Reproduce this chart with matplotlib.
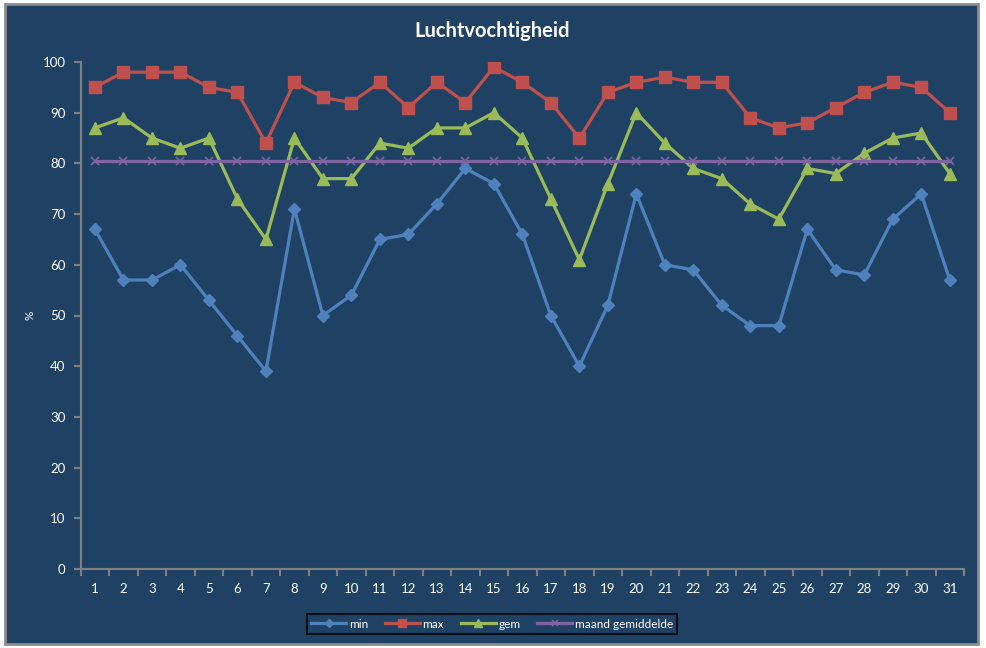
import matplotlib
matplotlib.use("Agg")
import matplotlib.pyplot as plt
from matplotlib.patches import Rectangle
from matplotlib.ticker import FixedLocator, NullFormatter

plt.rcParams["font.family"] = ["Lato", "DejaVu Sans"]

# daily humidity values (%)
days = list(range(1, 32))
hum_min = [67, 57, 57, 60, 53, 46, 39, 71, 50, 54, 65, 66, 72, 79, 76, 66,
           50, 40, 52, 74, 60, 59, 52, 48, 48, 67, 59, 58, 69, 74, 57]
hum_max = [95, 98, 98, 98, 95, 94, 84, 96, 93, 92, 96, 91, 96, 92, 99, 96,
           92, 85, 94, 96, 97, 96, 96, 89, 87, 88, 91, 94, 96, 95, 90]
hum_gem = [87, 89, 85, 83, 85, 73, 65, 85, 77, 77, 84, 83, 87, 87, 90, 85,
           73, 61, 76, 90, 84, 79, 77, 72, 69, 79, 78, 82, 85, 86, 78]
hum_maand = [80.4, 80.4, 80.4, 80.4, 80.4, 80.4, 80.4, 80.4, 80.4,
             80.4, 80.4, 80.4, 80.4, 80.4, 80.4, 80.4, 80.4, 80.4,
             80.4, 80.4, 80.4, 80.4, 80.4, 80.4, 80.4, 80.4, 80.4,
             80.4, 80.4, 80.4, 80.4]

BG = "#1f4264"
GRID = "#808080"
W, H = 987, 648

fig = plt.figure(figsize=(W / 100, H / 100), dpi=100, facecolor="white")

# chart area with grey border (behind the axes)
fig.patches.append(Rectangle((5 / W, 4 / H), 973 / W, 640 / H, transform=fig.transFigure,
                             facecolor=BG, edgecolor="#8c8c8c", linewidth=2, zorder=-1))

ax = fig.add_axes([80.7 / W, (H - 569) / H, (964 - 80.7) / W, (569 - 62) / H])
ax.set_facecolor(BG)
ax.set_zorder(1)

ax.plot(days, hum_min, color="#4f81bd", lw=2.3, marker="D", ms=6, label="min")
ax.plot(days, hum_max, color="#c0504d", lw=2.3, marker="s", ms=8, label="max")
ax.plot(days, hum_gem, color="#9bbb59", lw=2.3, marker="^", ms=8, label="gem")
ax.plot(days, hum_maand, color="#8064a2", lw=2.3, marker="x", ms=6, mew=1.2,
        label="maand gemiddelde")

ax.set_xlim(0.5, 31.5)
ax.set_ylim(0, 100)
ax.set_yticks(range(0, 101, 10))
ax.set_xticks(days)
ax.xaxis.set_minor_locator(FixedLocator([d + 0.5 for d in range(0, 32)]))
ax.xaxis.set_minor_formatter(NullFormatter())
ax.tick_params(axis="x", which="major", length=0, pad=10, colors="white", labelsize=9.5)
ax.tick_params(axis="x", which="minor", length=5, width=1.5, color=GRID, direction="out")
ax.tick_params(axis="y", length=5, width=1.5, color=GRID, labelcolor="white",
               labelsize=9.5, pad=6)

for side in ["top", "right"]:
    ax.spines[side].set_visible(False)
for side in ["left", "bottom"]:
    ax.spines[side].set_color(GRID)
    ax.spines[side].set_linewidth(1.5)

fig.text(30 / W, 1 - 315 / H, "%", color="white", fontsize=8.5, rotation=90,
         ha="center", va="center")
fig.text(492 / W, 1 - 31 / H, "Luchtvochtigheid", color="white", fontsize=14.5,
         fontweight="bold", ha="center", va="center")

leg = fig.legend(loc="center", bbox_to_anchor=(492 / W, 1 - 624 / H), ncol=4,
                 frameon=True, fontsize=8.5, handlelength=3, columnspacing=1.4,
                 handletextpad=0.2, borderpad=0.35, fancybox=False, markerscale=0.7)
leg.get_frame().set_facecolor(BG)
leg.get_frame().set_edgecolor("black")
leg.get_frame().set_linewidth(1.5)
for t in leg.get_texts():
    t.set_color("white")

fig.savefig("out.png", dpi=100, facecolor="white")
